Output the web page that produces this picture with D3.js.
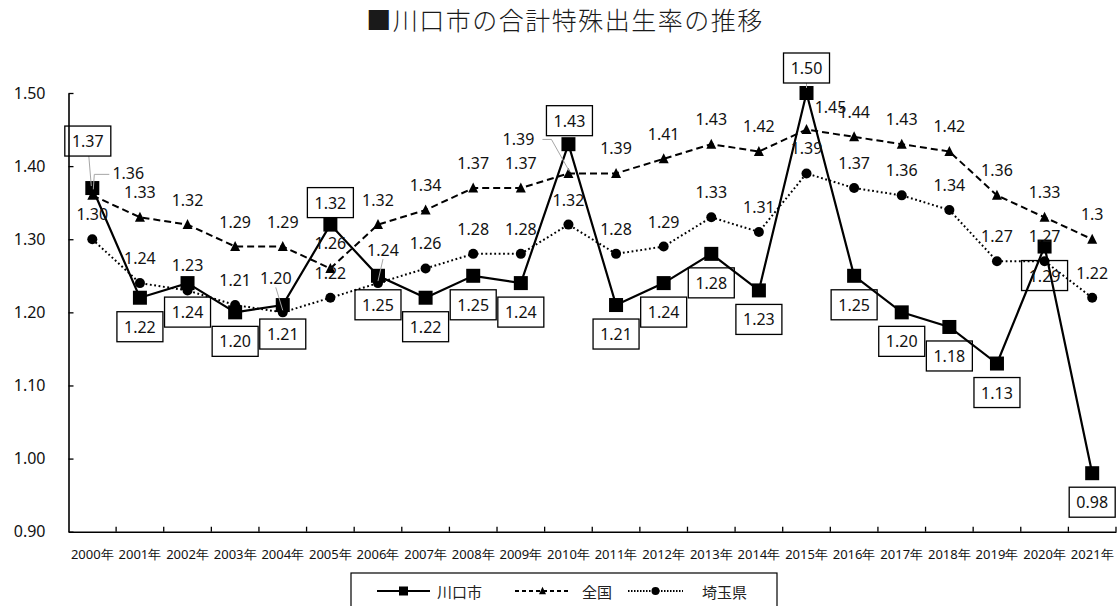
<!DOCTYPE html>
<html>
<head>
<meta charset="utf-8">
<script src="https://cdn.jsdelivr.net/npm/d3@7"></script>
<style>
  html, body { margin: 0; padding: 0; background: #fff; }
  svg { display: block; }
</style>
</head>
<body>
<svg id="chart" width="1120" height="606"></svg>
<script>
// ---- data ----
const years = ["2000年","2001年","2002年","2003年","2004年","2005年","2006年","2007年","2008年","2009年","2010年",
               "2011年","2012年","2013年","2014年","2015年","2016年","2017年","2018年","2019年","2020年","2021年"];
const kawaguchi = [1.37,1.22,1.24,1.20,1.21,1.32,1.25,1.22,1.25,1.24,1.43,1.21,1.24,1.28,1.23,1.50,1.25,1.20,1.18,1.13,1.29,0.98];
const zenkoku   = [1.36,1.33,1.32,1.29,1.29,1.26,1.32,1.34,1.37,1.37,1.39,1.39,1.41,1.43,1.42,1.45,1.44,1.43,1.42,1.36,1.33,1.30];
const saitama   = [1.30,1.24,1.23,1.21,1.20,1.22,1.24,1.26,1.28,1.28,1.32,1.28,1.29,1.33,1.31,1.39,1.37,1.36,1.34,1.27,1.27,1.22];
const yTicks = [0.90,1.00,1.10,1.20,1.30,1.40,1.50];
const seriesNames = ["川口市","全国","埼玉県"];
const titleText = "■川口市の合計特殊出生率の推移";

// ---- layout ----
const svg = d3.select("#chart");
const numFont = "'Noto Sans', 'Open Sans', sans-serif";
const cjkFont = "'Noto Sans CJK JP', 'Noto Sans', sans-serif";
const x = d3.scaleBand().domain(years).range([68.5, 1116]).paddingInner(0).paddingOuter(0);
const y = d3.scaleLinear().domain([0.9, 1.5]).range([531.7, 93]);
const cx = d => x(d) + x.bandwidth() / 2;

// title
svg.append("text")
  .attr("x", 565).attr("y", 19)
  .attr("text-anchor", "middle").attr("dominant-baseline", "central")
  .attr("font-family", cjkFont).attr("font-size", 25).attr("font-weight", 300)
  .attr("letter-spacing", 1.5)
  .attr("fill", "#1a1a1a")
  .text(titleText);

// y axis
const yAxis = d3.axisLeft(y).tickValues(yTicks).tickFormat(d3.format(".2f"))
  .tickSizeInner(-5).tickSizeOuter(0).tickPadding(23);
const gy = svg.append("g").attr("transform", "translate(68.5,0)").call(yAxis);
gy.select(".domain").attr("stroke", "#000").attr("stroke-width", 1.6);
gy.selectAll(".tick line").attr("stroke", "#000").attr("stroke-width", 1.3);
gy.selectAll(".tick text").attr("font-family", numFont).attr("font-size", 16).attr("fill", "#111");

// x axis
const xAxis = d3.axisBottom(x).tickSize(0).tickPadding(18);
const gx = svg.append("g").attr("transform", "translate(0,531.7)").call(xAxis);
gx.select(".domain").attr("stroke", "#000").attr("stroke-width", 1.6);
gx.selectAll(".tick text").attr("font-family", numFont).attr("font-size", 13).attr("fill", "#111");
const boundaries = years.map(d => x(d)).slice(1).concat([x.range()[1]]);
gx.selectAll("line.bt").data(boundaries).enter().append("line")
  .attr("class", "bt")
  .attr("x1", d => d).attr("x2", d => d).attr("y1", 0).attr("y2", -5)
  .attr("stroke", "#000").attr("stroke-width", 1.3);

// series styles
const series = [
  { name: seriesNames[2], values: saitama, dash: "1.8,2.6", width: 2, marker: "circle", msize: 10 },
  { name: seriesNames[1], values: zenkoku, dash: "7,4", width: 2, marker: "triangle", msize: 10 },
  { name: seriesNames[0], values: kawaguchi, dash: null, width: 2.2, marker: "square", msize: 14 }
];

function drawMarker(g, type, px, py, s) {
  if (type === "square") {
    g.append("rect").attr("x", px - s/2).attr("y", py - s/2).attr("width", s).attr("height", s).attr("fill", "#000");
  } else if (type === "circle") {
    g.append("circle").attr("cx", px).attr("cy", py).attr("r", s/2).attr("fill", "#000");
  } else {
    const h = s * 0.9;
    g.append("path").attr("d", `M${px},${py - h/2 - 1}L${px + s/2},${py + h/2}L${px - s/2},${py + h/2}Z`).attr("fill", "#000");
  }
}

const line = d3.line().x((d, i) => cx(years[i])).y(d => y(d));
series.forEach(s => {
  const g = svg.append("g");
  g.append("path").attr("d", line(s.values)).attr("fill", "none")
    .attr("stroke", "#000").attr("stroke-width", s.width)
    .attr("stroke-dasharray", s.dash);
  s.values.forEach((v, i) => drawMarker(g, s.marker, cx(years[i]), y(v), s.msize));
});

// ---- data labels ----
const labels = svg.append("g");
const leaderColor = "#a6a6a6";
// label offsets (relative to marker) for exceptions
const saitamaOffsets = { 4: [-7, -34], 6: [5, -33] };
const zenkokuOffsets = { 0: [36, -22], 10: [-50, -34], 15: [24, -23] };
const kawaOffsets = { 0: [-4.5, -47], 5: [0, -22], 10: [1, -23.5], 15: [0, -25] };

const fmt2 = d3.format(".2f");
const fmtG = d3.format(".3~g");

saitama.forEach((v, i) => {
  const px = cx(years[i]), py = y(v);
  const o = saitamaOffsets[i] || [0, -25];
  const tx = px + o[0], ty = py + o[1];
  if (i === 4 || i === 6) {
    labels.append("line").attr("x1", tx).attr("y1", ty + 9).attr("x2", px).attr("y2", py - 2)
      .attr("stroke", leaderColor).attr("stroke-width", 1);
  }
  labels.append("text").attr("x", tx).attr("y", ty)
    .attr("text-anchor", "middle").attr("dominant-baseline", "central")
    .attr("font-family", numFont).attr("font-size", 16).attr("fill", "#111").text(fmt2(v));
});

zenkoku.forEach((v, i) => {
  const px = cx(years[i]), py = y(v);
  const o = zenkokuOffsets[i] || [0, -25];
  const tx = px + o[0], ty = py + o[1];
  if (i === 0) {
    labels.append("polyline")
      .attr("points", `${tx - 19},${ty + 1} ${px + 2},${ty + 1} ${px + 1},${py - 6}`)
      .attr("fill", "none").attr("stroke", leaderColor).attr("stroke-width", 1);
  }
  if (i === 10) {
    labels.append("polyline")
      .attr("points", `${tx + 24},${ty} ${tx + 33},${ty} ${px + 1},${py - 2}`)
      .attr("fill", "none").attr("stroke", leaderColor).attr("stroke-width", 1);
  }
  labels.append("text").attr("x", tx).attr("y", ty)
    .attr("text-anchor", "middle").attr("dominant-baseline", "central")
    .attr("font-family", numFont).attr("font-size", 16).attr("fill", "#111").text(fmtG(v));
});

const bw = 46, bh = 30;
kawaguchi.forEach((v, i) => {
  const px = cx(years[i]), py = y(v);
  const o = kawaOffsets[i] || [0, 29];
  const tx = px + o[0], ty = py + o[1];
  if (i === 0) {
    labels.append("line").attr("x1", tx + 1).attr("y1", ty + bh/2).attr("x2", px - 1).attr("y2", py - 2)
      .attr("stroke", leaderColor).attr("stroke-width", 1);
  }
  if (i === 15) {
    labels.append("line").attr("x1", px).attr("y1", ty + bh/2).attr("x2", px).attr("y2", py - 5)
      .attr("stroke", leaderColor).attr("stroke-width", 1);
  }
  labels.append("rect").attr("x", tx - bw/2).attr("y", ty - bh/2).attr("width", bw).attr("height", bh)
    .attr("fill", "none").attr("stroke", "#000").attr("stroke-width", 1.3);
  labels.append("text").attr("x", tx).attr("y", ty)
    .attr("text-anchor", "middle").attr("dominant-baseline", "central")
    .attr("font-family", numFont).attr("font-size", 16).attr("fill", "#111").text(fmt2(v));
});

// ---- legend ----
const lg = svg.append("g");
lg.append("rect").attr("x", 351).attr("y", 573).attr("width", 426).attr("height", 50)
  .attr("fill", "#fff").attr("stroke", "#000").attr("stroke-width", 1.2);
const legendItems = [
  { name: seriesNames[0], x0: 377, x1: 430, dash: null, marker: "square", ms: 9, tx: 437 },
  { name: seriesNames[1], x0: 515, x1: 570, dash: "4,3", marker: "triangle", ms: 7, tx: 582 },
  { name: seriesNames[2], x0: 628, x1: 683, dash: "1.5,1.5", marker: "circle", ms: 8, tx: 702 }
];
const ly = 591;
legendItems.forEach(it => {
  lg.append("line").attr("x1", it.x0).attr("x2", it.x1).attr("y1", ly).attr("y2", ly)
    .attr("stroke", "#000").attr("stroke-width", 2).attr("stroke-dasharray", it.dash);
  drawMarker(lg, it.marker, (it.x0 + it.x1) / 2, ly, it.ms);
  lg.append("text").attr("x", it.tx).attr("y", ly)
    .attr("dominant-baseline", "central")
    .attr("font-family", cjkFont).attr("font-size", 15).attr("fill", "#222").text(it.name);
});
</script>
</body>
</html>
